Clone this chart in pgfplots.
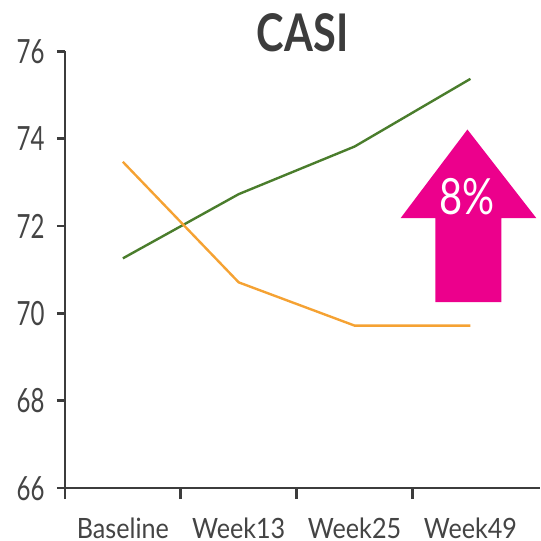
\documentclass[border=0pt]{standalone}
\usepackage{fontspec}
\setmainfont{Lato}
\newfontfamily\labfont{Lato}[FakeStretch=0.9]
\newfontfamily\numfont{Lato}[FakeStretch=0.72]
\newfontfamily\ttlfont{Lato}[FakeStretch=0.8]
\newfontfamily\pctfont{Lato}[FakeStretch=0.8]
\usepackage{pgfplots}
\pgfplotsset{compat=1.18}
\definecolor{axgray}{HTML}{3C3C3C}
\definecolor{txtgray}{HTML}{444444}
\definecolor{casigreen}{HTML}{4A7D2C}
\definecolor{casiorange}{HTML}{F5A233}
\definecolor{casipink}{HTML}{EC008C}
\begin{document}
\begin{tikzpicture}
\useasboundingbox (-32.5pt,-26.5pt) rectangle (238pt,244.35pt);
\begin{axis}[
  at={(0pt,0pt)}, anchor=south west,
  width=238pt, height=218.65pt, scale only axis,
  xmin=-0.5, xmax=3.603, ymin=66, ymax=76,
  axis x line*=bottom, axis y line*=left,
  x axis line style={-}, y axis line style={-},
  axis line style={axgray, line width=1.3pt},
  ytick={66,68,...,76},
  xtick={0,1,2,3}, xticklabels={Baseline,Week13,Week25,Week49},
  minor xtick={-0.5,0.5,1.5,2.5},
  major x tick style={draw=none},
  tick align=outside,
  major tick length=4pt, minor tick length=5.5pt,
  tick style={axgray, line width=1.3pt},
  xticklabel style={font=\labfont\fontsize{14}{14}\selectfont, text=txtgray, anchor=base, inner sep=0pt, yshift=-21pt},
  yticklabel style={font=\numfont\fontsize{16.7}{16.7}\selectfont, text=txtgray, anchor=base east, inner sep=0pt, xshift=-6pt, yshift=-6pt},
  /pgf/number format/assume math mode=true,
  clip=false,
]
\addplot[casigreen, line width=1.2pt] coordinates {(0,71.26) (1,72.73) (2,73.82) (3,75.37)};
\addplot[casiorange, line width=1.2pt] coordinates {(0,73.47) (1,70.71) (2,69.72) (3,69.72)};
\fill[casipink] (axis cs:2.974,74.21) -- (axis cs:3.569,72.18) -- (axis cs:3.267,72.18) -- (axis cs:3.267,70.26) -- (axis cs:2.698,70.26) -- (axis cs:2.698,72.18) -- (axis cs:2.397,72.18) -- cycle;
\node[text=white, font=\pctfont\fontsize{25}{25}\selectfont] at (axis cs:2.974,72.68) {8\%};
\node[anchor=base, text=axgray, font=\ttlfont\fontsize{26}{26}\selectfont\bfseries] at (rel axis cs:0.5,1) {CASI};
\end{axis}
\end{tikzpicture}
\end{document}
